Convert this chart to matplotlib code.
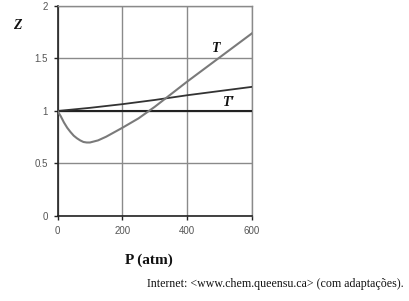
import matplotlib
matplotlib.use('Agg')
import matplotlib.pyplot as plt

p_T = [0, 10, 20, 30, 40, 50, 60, 70, 80, 90, 100, 125, 150, 200, 250, 300, 350, 400, 450, 500, 550, 600]
z_T = [1.0, 0.95, 0.89, 0.84, 0.80, 0.765, 0.74, 0.72, 0.705, 0.70, 0.70, 0.72, 0.755, 0.84, 0.93, 1.04, 1.16, 1.28, 1.395, 1.51, 1.625, 1.74]

# curve T'
p_T2 = [0, 100, 200, 300, 400, 500, 600]
z_T2 = [1.0, 1.03, 1.065, 1.105, 1.15, 1.19, 1.23]

# ideal gas line
p_ideal = [0, 600]
z_ideal = [1.0, 1.0]

x_ticks = [0, 200, 400, 600]
y_ticks = [0, 0.5, 1, 1.5, 2]
y_labels = ['0', '0.5', '1', '1.5', '2']

serif = 'Liberation Serif'
sans = 'Liberation Sans'

fig = plt.figure(figsize=(4.09, 3.01), dpi=100)
ax = fig.add_axes([0.1406, 0.2824, 0.4756, 0.6977])

ax.plot(p_ideal, z_ideal, color='#222222', lw=1.5, zorder=3)
ax.plot(p_T2, z_T2, color='#333333', lw=1.3, zorder=4)
ax.plot(p_T, z_T, color='#7a7a7a', lw=1.5, zorder=5)

ax.set_xlim(0, 600)
ax.set_ylim(0, 2)
ax.set_xticks(x_ticks)
ax.set_yticks(y_ticks)
ax.set_yticklabels(y_labels)
ax.grid(True, color='#8a8a8a', lw=1.0)
ax.set_axisbelow(True)

for side in ['top', 'right']:
    ax.spines[side].set_color('#8a8a8a')
    ax.spines[side].set_linewidth(1.0)
for side in ['left', 'bottom']:
    ax.spines[side].set_color('#222222')
    ax.spines[side].set_linewidth(1.2)

ax.tick_params(direction='out', length=3, width=1, color='#222222',
               labelsize=7, labelcolor='#555555', pad=4)
for lab in ax.get_xticklabels() + ax.get_yticklabels():
    lab.set_family(sans)

ax.text(475, 1.565, 'T', family=serif, fontsize=10, fontweight='bold', style='italic', color='#111111')
ax.text(510, 1.048, "T\u2032", family=serif, fontsize=10, fontweight='bold', style='italic', color='#111111')

fig.text(0.031, 0.904, 'Z', family=serif, fontsize=10, fontweight='bold', style='italic', color='#111111')
fig.text(0.363, 0.125, 'P (atm)', family=serif, fontsize=11, fontweight='bold', ha='center', color='#111111')
fig.text(0.988, 0.045, 'Internet: <www.chem.queensu.ca> (com adaptações).', family=serif,
         fontsize=8.6, ha='right', color='#111111')

fig.savefig('out.png', dpi=100)
